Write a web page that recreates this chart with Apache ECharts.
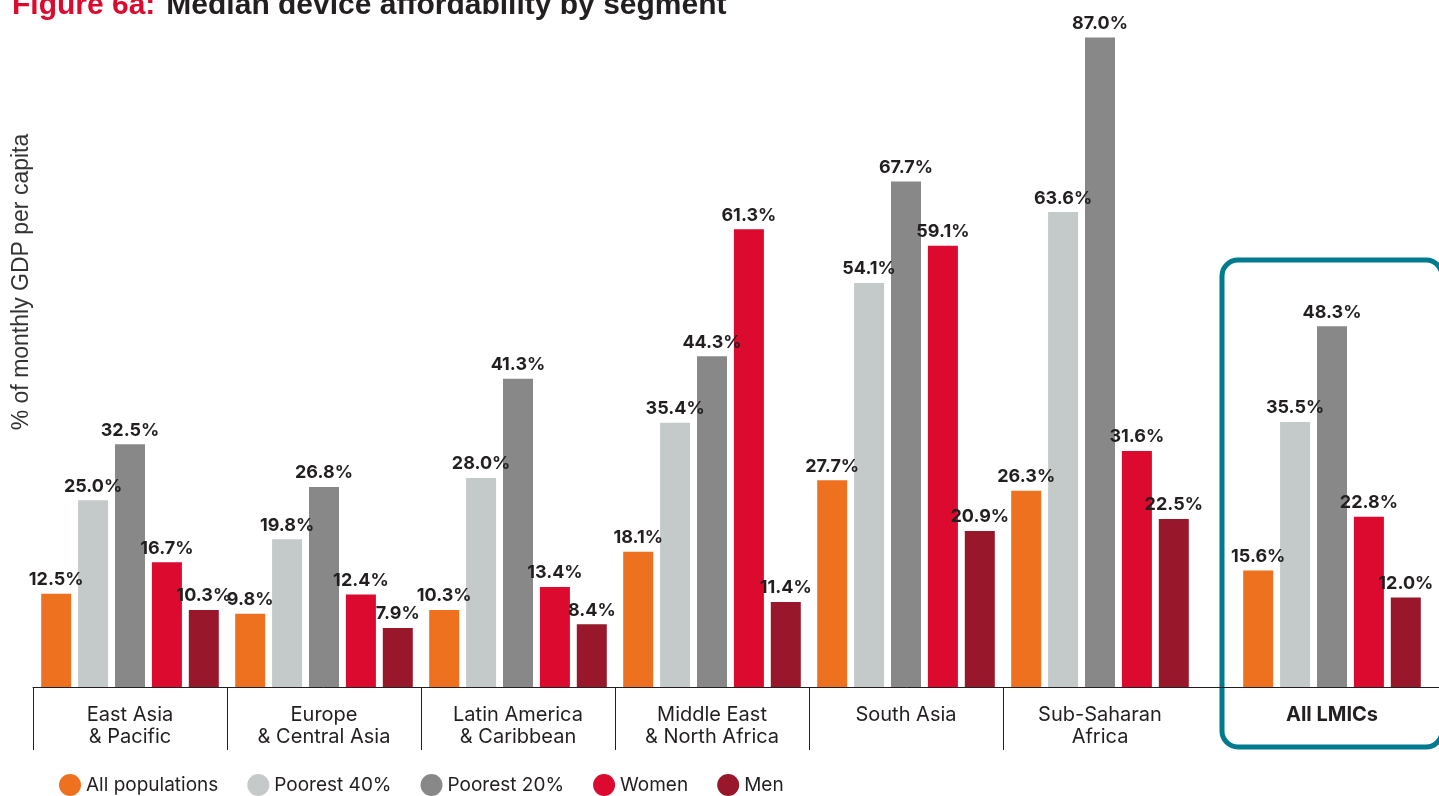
<!DOCTYPE html>
<html>
<head>
<meta charset="utf-8">
<style>
  html, body { margin: 0; padding: 0; background: #ffffff; }
  #chart { width: 1439px; height: 796px; }
</style>
<script src="https://cdn.jsdelivr.net/npm/echarts@6/dist/echarts.min.js"></script>
</head>
<body>
<div id="chart"></div>
<script>
// Regions (two-line labels) and the aggregate group shown on its own
const regions = [
  'East Asia\n& Pacific',
  'Europe\n& Central Asia',
  'Latin America\n& Caribbean',
  'Middle East\n& North Africa',
  'South Asia',
  'Sub-Saharan\nAfrica'
];
const aggregate = ['All LMICs'];

const seriesNames = ['All populations', 'Poorest 40%', 'Poorest 20%', 'Women', 'Men'];

// Median device cost, % of monthly GDP per capita, by region
const allPopulations = [12.5, 9.8, 10.3, 18.1, 27.7, 26.3];
const poorest40      = [25.0, 19.8, 28.0, 35.4, 54.1, 63.6];
const poorest20      = [32.5, 26.8, 41.3, 44.3, 67.7, 87.0];
const women          = [16.7, 12.4, 13.4, 61.3, 59.1, 31.6];
const men            = [10.3, 7.9, 8.4, 11.4, 20.9, 22.5];

// All LMICs, in the same series order
const allLmics = [15.6, 35.5, 48.3, 22.8, 12.0];

const colors = ['#EE7120', '#C4CACA', '#888888', '#DC0A2E', '#98172A'];
const regionValues = [allPopulations, poorest40, poorest20, women, men];

const INK = '#231F20';
const LABEL_FONT = 'Inter, "Liberation Sans", sans-serif';

const valueLabel = {
  show: true,
  position: 'top',
  distance: 5,
  color: INK,
  fontFamily: LABEL_FONT,
  fontWeight: 'bold',
  fontSize: 18,
  formatter: p => p.value.toFixed(1) + '%'
};

const barSeries = [];
seriesNames.forEach((name, i) => {
  barSeries.push({
    name: name,
    type: 'bar',
    xAxisIndex: 0,
    yAxisIndex: 0,
    barWidth: 30,
    barGap: '23%',
    itemStyle: { color: colors[i] },
    label: valueLabel,
    data: regionValues[i]
  });
});
seriesNames.forEach((name, i) => {
  barSeries.push({
    name: name,
    type: 'bar',
    xAxisIndex: 1,
    yAxisIndex: 1,
    barWidth: 30,
    barGap: '23%',
    itemStyle: { color: colors[i] },
    label: valueLabel,
    data: [allLmics[i]]
  });
});

// Vertical separators hanging below the axis at the left edge of each region band
const separators = {
  type: 'custom',
  xAxisIndex: 0,
  yAxisIndex: 0,
  silent: true,
  clip: false,
  z: 5,
  data: regions.map((_, i) => [i, 0]),
  renderItem: function (params, api) {
    const p = api.coord([api.value(0), 0]);
    const band = api.size([1, 0])[0];
    const x = Math.round(p[0] - band / 2) + 0.5;
    return {
      type: 'line',
      shape: { x1: x, y1: p[1], x2: x, y2: p[1] + 63 },
      style: { stroke: INK, lineWidth: 1 }
    };
  }
};

const yAxisBase = {
  type: 'value',
  min: 0,
  max: 90,
  show: false
};

const chart = echarts.init(document.getElementById('chart'), null, { renderer: 'canvas' });

const titleFont = '"Liberation Sans", Arial, sans-serif';

chart.setOption({
  animation: false,
  backgroundColor: '#ffffff',
  title: {
    left: 12,
    top: -9,
    padding: 0,
    text: '{a|Figure 6a:}{b|Median device affordability by segment}',
    textStyle: {
      rich: {
        a: { color: '#DC0A2E', fontFamily: titleFont, fontWeight: 'bold', fontSize: 30, lineHeight: 30 },
        b: { color: INK, fontFamily: titleFont, fontWeight: 'bold', fontSize: 30, lineHeight: 30, padding: [0, 0, 0, 11] }
      }
    }
  },
  legend: {
    data: seriesNames,
    left: 59,
    top: 774,
    padding: 0,
    icon: 'circle',
    itemWidth: 22,
    itemHeight: 22,
    itemGap: 29,
    textStyle: { color: INK, fontFamily: LABEL_FONT, fontSize: 19 }
  },
  grid: [
    { left: 33, width: 1164, top: 15, bottom: 109, outerBoundsMode: 'none' },
    { left: 1197, width: 270, top: 15, bottom: 109, outerBoundsMode: 'none' }
  ],
  xAxis: [
    {
      type: 'category',
      gridIndex: 0,
      data: regions,
      axisLine: { show: true, lineStyle: { color: INK, width: 1 } },
      axisTick: { show: false },
      axisLabel: {
        margin: 17,
        color: INK,
        fontFamily: LABEL_FONT,
        fontSize: 20,
        lineHeight: 22
      }
    },
    {
      type: 'category',
      gridIndex: 1,
      data: aggregate,
      axisLine: { show: true, lineStyle: { color: INK, width: 1 } },
      axisTick: { show: false },
      axisLabel: {
        margin: 17,
        color: INK,
        fontFamily: LABEL_FONT,
        fontWeight: 'bold',
        fontSize: 20,
        lineHeight: 22
      }
    }
  ],
  yAxis: [
    Object.assign({ gridIndex: 0 }, yAxisBase),
    Object.assign({ gridIndex: 1 }, yAxisBase)
  ],
  graphic: [
    {
      type: 'text',
      x: 22,
      y: 282,
      rotation: Math.PI / 2,
      style: {
        text: '% of monthly GDP per capita',
        fill: '#333333',
        font: '23px "Liberation Sans", Arial, sans-serif',
        align: 'center',
        verticalAlign: 'middle'
      }
    },
    {
      // Highlight frame around the all-LMIC group
      type: 'rect',
      shape: { x: 1222, y: 260, width: 220, height: 487, r: 16 },
      style: { fill: 'none', stroke: '#007A8F', lineWidth: 5 },
      silent: true
    }
  ],
  series: barSeries.concat([separators])
});
</script>
</body>
</html>
